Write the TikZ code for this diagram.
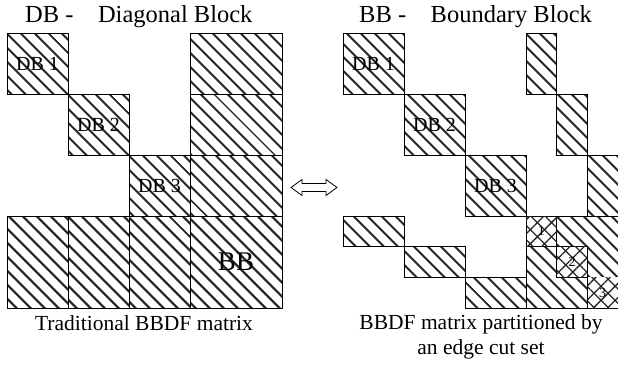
\documentclass[tikz,border=0pt]{standalone}
\usepackage{fontspec}
\setmainfont{Liberation Serif}
\usetikzlibrary{patterns.meta}

\tikzset{
  blk/.style={draw, line width=0.8pt, inner sep=0pt, outer sep=0pt, anchor=north west,
    pattern={Lines[angle=-45,distance=10.5pt,line width=2.4pt]},
    pattern color=black!85, font=\fontsize{20}{20}\selectfont},
  dbk/.style={blk, minimum width=61pt, minimum height=61pt},
  bcol/.style={blk, minimum width=92pt, minimum height=61pt},
  brow/.style={blk, minimum width=61pt, minimum height=92pt},
  bbk/.style={blk, minimum width=92pt, minimum height=92pt},
  scol/.style={blk, minimum width=30.67pt, minimum height=61pt},
  srow/.style={blk, minimum width=61pt, minimum height=30.67pt},
  xsq/.style={anchor=north west, inner sep=0pt, outer sep=0pt, minimum size=30.67pt,
    line width=0.8pt, fill=white, font=\fontsize{14}{14}\selectfont,
    postaction={pattern={Hatch[angle=45,distance=10pt,line width=1.3pt]},
      pattern color=black!85}},
  ttl/.style={anchor=west, inner sep=0pt, font=\fontsize{24.5}{24.5}\selectfont},
  captxt/.style={align=center, inner sep=0pt, font=\fontsize{21.5}{25}\selectfont}
}

\begin{document}
\begin{tikzpicture}[x=1pt, y=-1pt]
  \useasboundingbox (0,0) rectangle (618,364);

  % titles
  \node[ttl] (ltitle) at (25,17) {DB -\quad Diagonal Block};
  \node[ttl] (rtitle) at (359,17) {BB -\quad Boundary Block};

  % traditional BBDF
  \node[dbk] (ldb1) at (7,33) {DB 1};
  \node[dbk] (ldb2) at (ldb1.south east) {DB 2};
  \node[dbk] (ldb3) at (ldb2.south east) {DB 3};
  \node[bcol] (lbc1) at (ldb3.east |- ldb1.north) {};
  \node[bcol] (lbc2) at (lbc1.south west) {};
  \node[bcol] (lbc3) at (lbc2.south west) {};
  \node[brow] (lbr1) at (ldb1.west |- ldb3.south) {};
  \node[brow] (lbr2) at (lbr1.north east) {};
  \node[brow] (lbr3) at (lbr2.north east) {};
  \node[bbk, font=\fontsize{27}{27}\selectfont] (lbb) at (lbr3.north east) {BB};
  \node[captxt] (lcap) at (144,323) {Traditional BBDF matrix};

  % swap arrow
  \draw[line width=0.8pt] (291,187.5) -- (302,179.5) -- (302,183.5) -- (326,183.5)
    -- (326,179.5) -- (337,187.5) -- (326,195.5) -- (326,191.5) -- (302,191.5)
    -- (302,195.5) -- cycle;

  % partitioned BBDF
  \node[dbk] (rdb1) at (343,33) {DB 1};
  \node[dbk] (rdb2) at (rdb1.south east) {DB 2};
  \node[dbk] (rdb3) at (rdb2.south east) {DB 3};
  \node[scol] (rbc1) at (rdb3.east |- rdb1.north) {};
  \node[scol] (rbc2) at (rbc1.south east) {};
  \node[scol] (rbc3) at (rbc2.south east) {};
  \node[srow] (rbr1) at (rdb1.west |- rdb3.south) {};
  \node[srow] (rbr2) at (rbr1.south east) {};
  \node[srow] (rbr3) at (rbr2.south east) {};
  \node[bbk] (rbb) at (rdb3.south east) {};
  \node[xsq, draw] (rx1) at (rbb.north west) {1};
  \node[xsq, draw] (rx2) at (rx1.south east) {2};
  \node[xsq] (rx3) at (rx2.south east) {3};
  \draw[line width=0.8pt] (rx3.north west) -- (rx3.south west);
  \node[captxt] (rcap) at (481,337) {BBDF matrix partitioned by\\an edge cut set};
\end{tikzpicture}
\end{document}
